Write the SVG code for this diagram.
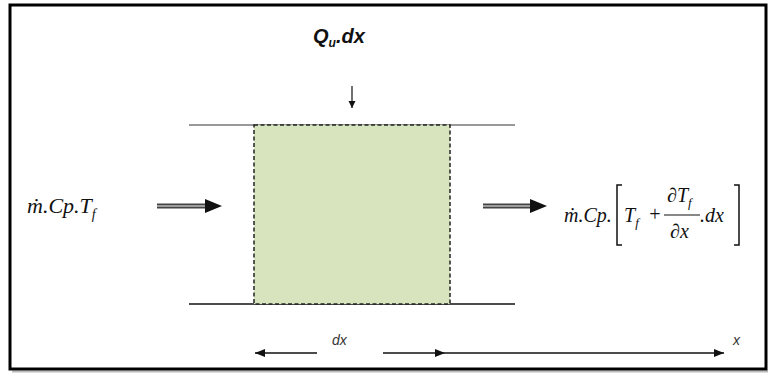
<svg xmlns="http://www.w3.org/2000/svg" width="768" height="376" viewBox="0 0 768 376">
<style>
.m{font-family:"Liberation Serif","Times New Roman",serif;font-style:italic;fill:#111}
.s{font-family:"Liberation Sans",Arial,sans-serif;font-style:italic;fill:#333}
.b{font-family:"Liberation Sans",Arial,sans-serif;font-style:italic;font-weight:bold;fill:#111}
.ln{stroke:#111;stroke-width:1.5;fill:none}
</style>
<defs>
<marker id="ah" viewBox="0 0 10 8" refX="10" refY="4" markerWidth="10" markerHeight="8" markerUnits="userSpaceOnUse" orient="auto">
<path d="M0,0 L10,4 L0,8 Z" fill="#111"/>
</marker>
<marker id="ahs" viewBox="0 0 8 8" refX="8" refY="4" markerWidth="7" markerHeight="8" markerUnits="userSpaceOnUse" orient="auto">
<path d="M0,0 L8,4 L0,8 Z" fill="#111"/>
</marker>
</defs>
<rect x="0" y="0" width="768" height="376" fill="#fff"/>
<line x1="12" y1="371.5" x2="768" y2="371.5" stroke="#bbb" stroke-width="2"/>
<rect x="10" y="5" width="756" height="364" fill="none" stroke="#000" stroke-width="3"/>

<g id="control-volume">
<line x1="189" y1="125" x2="515" y2="125" stroke="#777" stroke-width="1.5"/>
<line x1="189" y1="304" x2="515" y2="304" stroke="#111" stroke-width="1.5"/>
<rect x="254" y="125" width="196" height="179" fill="#d7e4bd" stroke="#222" stroke-width="1.5" stroke-dasharray="4,2.5"/>
</g>

<g id="heat-input">
<text class="b" x="313" y="43" font-size="20">Q<tspan font-size="12" dy="4">u</tspan><tspan dy="-4">.dx</tspan></text>
</g>

<g id="inlet">
<text class="m" x="27" y="213" font-size="22">ṁ.Cp.T<tspan font-size="14" dy="6">f</tspan></text>
</g>

<g id="outlet">
<text class="m" x="564" y="222" font-size="20">ṁ.Cp.</text>
<path d="M622,185 L617,185 L617,245 L622,245" class="ln" stroke-width="1.2"/>
<text class="m" x="624" y="222" font-size="20">T<tspan font-size="13" dy="5">f</tspan></text>
<text class="m" x="648" y="221" font-size="20" font-style="normal">+</text>
<text class="m" x="667" y="202" font-size="20">∂T<tspan font-size="13" dy="5">f</tspan></text>
<line x1="664" y1="215" x2="700" y2="215" stroke="#111" stroke-width="1"/>
<text class="m" x="670" y="238" font-size="20">∂x</text>
<text class="m" x="700" y="222" font-size="20">.dx</text>
<path d="M734,185 L739,185 L739,245 L734,245" class="ln" stroke-width="1.2"/>
</g>

<g id="axis-labels">
<text class="s" x="332" y="345" font-size="14">dx</text>
<text class="s" x="733" y="345" font-size="14">x</text>
</g>

<g id="connectors">
<line x1="352" y1="86" x2="352" y2="108" stroke="#111" stroke-width="1.2" marker-end="url(#ahs)"/>
<g>
<line x1="157" y1="206" x2="207" y2="206" stroke="#444" stroke-width="5"/>
<line x1="157" y1="206" x2="207" y2="206" stroke="#bbb" stroke-width="1.5"/>
<path d="M205,199 L222,206 L205,213 Z" fill="#111"/>
</g>
<g>
<line x1="483" y1="206" x2="532" y2="206" stroke="#444" stroke-width="5"/>
<line x1="483" y1="206" x2="532" y2="206" stroke="#bbb" stroke-width="1.5"/>
<path d="M530,199 L547,206 L530,213 Z" fill="#111"/>
</g>
<line x1="317" y1="353" x2="255" y2="353" class="ln" marker-end="url(#ah)"/>
<line x1="383" y1="353" x2="445" y2="353" class="ln" marker-end="url(#ah)"/>
<line x1="445" y1="353" x2="724" y2="353" class="ln" marker-end="url(#ah)"/>
</g>
</svg>
